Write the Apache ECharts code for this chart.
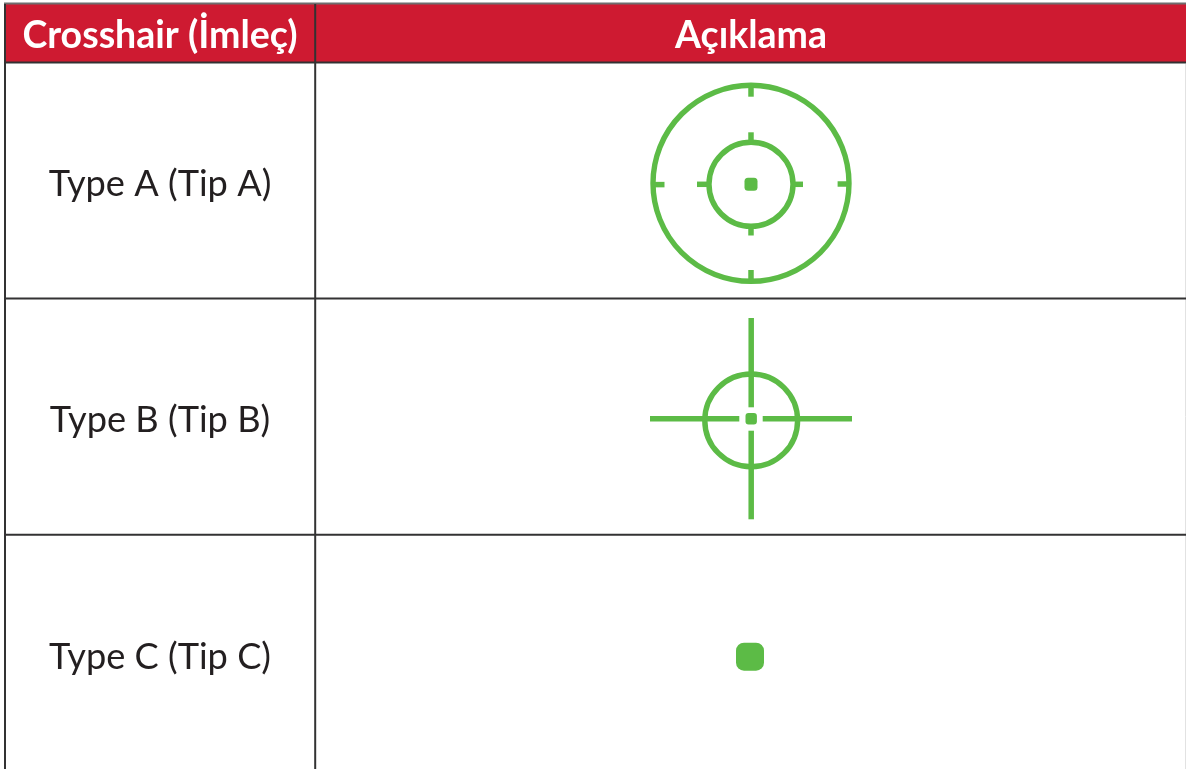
<!DOCTYPE html>
<html>
<head>
<meta charset="utf-8">
<title>Crosshair</title>
<style>
  html, body { margin: 0; padding: 0; background: #fff; }
  #chart { width: 1186px; height: 769px; }
</style>
<script src="https://cdn.jsdelivr.net/npm/echarts@6/dist/echarts.min.js"></script>
</head>
<body>
<div id="chart"></div>
<script>
// table text
const headers = ['Crosshair (İmleç)', 'Açıklama'];
const rowNames = ['Type A (Tip A)', 'Type B (Tip B)', 'Type C (Tip C)'];

// table layout, in axis units (x0, y0, x1, y1)
const headerBand = [[5, 4, 1186, 62.5]];
const darkRules = [
  [4, 62.5, 1186, 62.5],
  [4, 298.5, 1186, 298.5],
  [4, 534.7, 1186, 534.7],
  [5, 4, 5, 769],
  [315.2, 4, 315.2, 769]
];
const topRule = [[4, 3.4, 1186, 3.4]];
const rightRule = [[1185.5, 64, 1185.5, 769]];

// where the texts sit (x, y)
const headerAnchors = [[160, 35.5], [751, 35.5]];
const rowAnchors = [[160, 184.5], [160, 420.5], [160, 657.5]];

// rings: x, y, radius
const rings = [
  [751, 183.3, 98],
  [751, 184.3, 42],
  [751.2, 420.4, 46.4]
];
// tick marks and cross arms: x0, y0, x1, y1
const arms = [
  // type A outer ticks
  [751, 84, 751, 96.7], [751, 270, 751, 283], [653, 184.6, 664.5, 184.6], [837.6, 184, 849, 184],
  // type A inner ticks
  [751, 132.3, 751, 143], [751, 226, 751, 235.5], [697, 184.3, 710, 184.3], [792, 184.3, 803, 184.3],
  // type B arms
  [751.2, 318, 751.2, 407.3], [751.2, 430.7, 751.2, 519.3], [650, 418.7, 739.3, 418.7], [762.7, 418.7, 852, 418.7]
];
// centre dots: x, y, side, corner
const dots = [
  [751, 184.3, 13, 3.5],
  [751.2, 418.7, 11.4, 3],
  [750, 656.7, 28, 8]
];

const RED = '#CE1A31';
const GREEN = '#5CBB46';
const DARK = '#333233';
const FONT = 'Lato, "Noto Sans", sans-serif';

function segmentSeries(data, color, width) {
  return {
    type: 'custom',
    silent: true,
    animation: false,
    clip: false,
    data: data,
    renderItem: function (params, api) {
      const a = api.coord([api.value(0), api.value(1)]);
      const b = api.coord([api.value(2), api.value(3)]);
      return {
        type: 'line',
        shape: { x1: a[0], y1: a[1], x2: b[0], y2: b[1] },
        style: { stroke: color, lineWidth: width, fill: null }
      };
    }
  };
}

function textSeries(names, anchors, size, weight, color) {
  return {
    type: 'custom',
    silent: true,
    animation: false,
    data: anchors.map(function (p, i) { return [p[0], p[1], names[i]]; }),
    renderItem: function (params, api) {
      const p = api.coord([api.value(0), api.value(1)]);
      return {
        type: 'text',
        x: p[0],
        y: p[1],
        style: {
          text: names[params.dataIndex],
          fill: color,
          font: weight + ' ' + size + 'px ' + FONT,
          align: 'center',
          verticalAlign: 'middle'
        }
      };
    }
  };
}

const myChart = echarts.init(document.getElementById('chart'));
myChart.setOption({
  backgroundColor: '#ffffff',
  grid: { left: 0, right: 0, top: 0, bottom: 0 },
  xAxis: { type: 'value', min: 0, max: 1186, show: false },
  yAxis: { type: 'value', min: 0, max: 769, inverse: true, show: false },
  series: [
    {
      type: 'custom',
      silent: true,
      animation: false,
      data: headerBand,
      renderItem: function (params, api) {
        const a = api.coord([api.value(0), api.value(1)]);
        const b = api.coord([api.value(2), api.value(3)]);
        return {
          type: 'rect',
          shape: { x: a[0], y: a[1], width: b[0] - a[0], height: b[1] - a[1] },
          style: { fill: RED }
        };
      }
    },
    segmentSeries(topRule, '#6f6d6e', 2),
    segmentSeries(rightRule, '#e2e2e2', 1),
    segmentSeries(darkRules, DARK, 2),
    textSeries(headers, headerAnchors, 37.5, 'bold', '#ffffff'),
    textSeries(rowNames, rowAnchors, 36.2, 'normal', '#231F20'),
    {
      type: 'custom',
      silent: true,
      animation: false,
      data: rings,
      renderItem: function (params, api) {
        const c = api.coord([api.value(0), api.value(1)]);
        const r = api.size([api.value(2), 0])[0];
        return {
          type: 'circle',
          shape: { cx: c[0], cy: c[1], r: r },
          style: { fill: null, stroke: GREEN, lineWidth: 5.4 }
        };
      }
    },
    segmentSeries(arms, GREEN, 5.5),
    {
      type: 'custom',
      silent: true,
      animation: false,
      data: dots,
      renderItem: function (params, api) {
        const c = api.coord([api.value(0), api.value(1)]);
        const side = api.size([api.value(2), 0])[0];
        return {
          type: 'rect',
          shape: { x: c[0] - side / 2, y: c[1] - side / 2, width: side, height: side, r: api.value(3) },
          style: { fill: GREEN }
        };
      }
    }
  ]
});
</script>
</body>
</html>
